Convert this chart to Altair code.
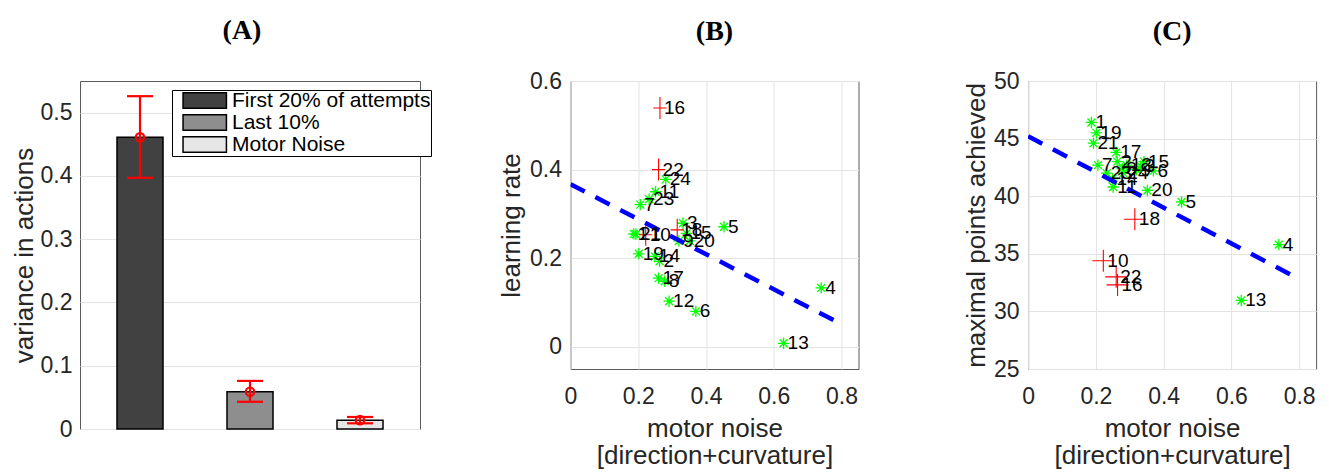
import altair as alt
import pandas as pd

# ---------------- data ----------------
bar_labels = ["First 20% of attempts", "Last 10%", "Motor Noise"]
bar_pos = [1, 2, 3]
bar_values = [0.461, 0.059, 0.014]
err_low = [0.397, 0.043, 0.009]
err_high = [0.526, 0.076, 0.019]
bar_colors = ["#414141", "#8e8e8e", "#e6e6e6"]

subjects = list(range(1, 25))
motor_noise = [0.187, 0.263, 0.332, 0.740, 0.453, 0.370, 0.206, 0.278,
               0.320, 0.222, 0.251, 0.291, 0.629, 0.249, 0.342, 0.264,
               0.260, 0.315, 0.2015, 0.352, 0.193, 0.260, 0.232, 0.281]
learning_rate = [0.255, 0.193, 0.279, 0.133, 0.271, 0.080, 0.321, 0.148,
                 0.239, 0.253, 0.350, 0.103, 0.008, 0.204, 0.256, 0.539,
                 0.155, 0.264, 0.210, 0.239, 0.254, 0.400, 0.333, 0.378]
max_points = [46.4, 43.0, 42.6, 35.8, 39.5, 42.2, 42.7, 42.4,
              42.3, 34.4, 40.8, 42.7, 30.95, 41.5, 43.0, 32.3,
              43.8, 38.0, 45.5, 40.5, 44.6, 33.0, 42.0, 42.0]
red_subjects = [10, 16, 18, 22]

fit_x = [0.0, 0.8]
fit_lr = [0.367, 0.051]
fit_pts = [45.2, 32.8]

# ---------------- styles ----------------
SANS = "Liberation Sans"
SERIF = "Liberation Serif"
AX = "#262626"
GRID = "#e3e3e3"
STAR = "M-1,0L1,0M0,-1L0,1M-0.7,-0.7L0.7,0.7M-0.7,0.7L0.7,-0.7"

dfA = pd.DataFrame({"pos": bar_pos, "val": bar_values, "lo": err_low,
                    "hi": err_high, "label": bar_labels})
dfS = pd.DataFrame({"subject": subjects, "noise": motor_noise,
                    "lr": learning_rate, "pts": max_points})
dfS["red"] = dfS["subject"].isin(red_subjects)
dfS["txt"] = dfS["subject"].astype(str)
dfFit = pd.DataFrame({"noise": fit_x, "lr": fit_lr, "pts": fit_pts})

# ---------------- panel A ----------------
xA = alt.X("pos:Q", scale=alt.Scale(domain=[0.5, 3.5], nice=False, zero=False), axis=None)
yA = alt.Y("val:Q", scale=alt.Scale(domain=[0, 0.55], nice=False, zero=False),
           axis=alt.Axis(values=[0, 0.1, 0.2, 0.3, 0.4, 0.5], format="~g",
                         labelFont=SANS, labelFontSize=23, labelColor=AX,
                         labelPadding=8, ticks=False, tickSize=0, domain=False,
                         grid=True, gridColor=GRID,
                         title="variance in actions", titleFont=SANS,
                         titleFontSize=26, titleFontWeight="normal",
                         titleColor=AX, titleX=-48, titleBaseline="alphabetic"))

bars = alt.Chart(dfA).mark_bar(size=46, stroke="black", strokeWidth=1.5).encode(
    x=xA, y=yA,
    color=alt.Color("label:N", scale=alt.Scale(domain=bar_labels, range=bar_colors),
                    legend=alt.Legend(orient="none", legendX=92, legendY=9, title=None,
                                      symbolType="M0.07,-1L5.67,-1L5.67,1L0.07,1Z",
                                      symbolSize=240, symbolStrokeColor="black",
                                      symbolStrokeWidth=1.5, symbolOpacity=1,
                                      labelFont=SANS, labelFontSize=21,
                                      labelColor="black", labelLimit=400,
                                      labelOffset=39, rowPadding=-4.5, padding=0,
                                      strokeColor="black", fillColor="white")))
err_rule = alt.Chart(dfA).mark_rule(color="red", strokeWidth=2.2).encode(
    x="pos:Q", y="lo:Q", y2="hi:Q")
cap_hi = alt.Chart(dfA).mark_point(shape="M-1,0L1,0", size=676, color="red",
                                   strokeWidth=2.2, filled=False, opacity=1).encode(
    x="pos:Q", y="hi:Q")
cap_lo = alt.Chart(dfA).mark_point(shape="M-1,0L1,0", size=676, color="red",
                                   strokeWidth=2.2, filled=False, opacity=1).encode(
    x="pos:Q", y="lo:Q")
mean_pt = alt.Chart(dfA).mark_point(shape="circle", size=70, color="red",
                                    strokeWidth=2.2, filled=False, opacity=1).encode(
    x="pos:Q", y="val:Q")

panelA = alt.layer(bars, err_rule, cap_hi, cap_lo, mean_pt).properties(
    width=340, height=348,
    title=alt.TitleParams("(A)", font=SERIF, fontSize=28, fontWeight="bold",
                          color="black", anchor="middle", baseline="alphabetic",
                          offset=14, dx=-8))


# ---------------- panels B, C ----------------
def scatter_panel(ycol, ydom, yvals, yfmt, ytitle, title_x, title, cross, title_offset):
    xenc = alt.X("noise:Q", scale=alt.Scale(domain=[0, 0.85], nice=False, zero=False),
                 axis=alt.Axis(values=[0, 0.2, 0.4, 0.6, 0.8], format="~g",
                               labelFont=SANS, labelFontSize=23, labelColor=AX,
                               labelPadding=16, labelFlush=False, ticks=False,
                               tickSize=0, domain=False, grid=True, gridColor=GRID,
                               title=["motor noise", "[direction+curvature]"],
                               titleFont=SANS, titleFontSize=26,
                               titleFontWeight="normal", titleColor=AX,
                               titleY=67, titleBaseline="alphabetic",
                               titleLineHeight=27))
    yenc = alt.Y(ycol + ":Q", scale=alt.Scale(domain=ydom, nice=False, zero=False),
                 axis=alt.Axis(values=yvals, format=yfmt, labelFont=SANS,
                               labelFontSize=23, labelColor=AX, labelPadding=9,
                               labelFlush=False, ticks=False, tickSize=0,
                               domain=False, grid=True, gridColor=GRID,
                               title=ytitle, titleFont=SANS, titleFontSize=26,
                               titleFontWeight="normal", titleColor=AX,
                               titleX=title_x, titleBaseline="alphabetic"))
    base = alt.Chart(dfS).encode(x=xenc, y=yenc)
    stars = base.transform_filter("!datum.red").mark_point(
        shape=STAR, size=130, color="#00ff00", strokeWidth=1.3, filled=False, opacity=1)
    crosses = base.transform_filter("datum.red").mark_point(
        shape=cross, size=484, color="#ff0000", strokeWidth=1.1, filled=False, opacity=1)
    line = alt.Chart(dfFit).mark_line(color="#0000ff", strokeWidth=4.5,
                                      strokeDash=[16, 12], clip=True).encode(
        x="noise:Q", y=ycol + ":Q")
    labels = base.mark_text(align="left", baseline="middle", dx=4, font=SANS,
                            fontSize=19, color="black").encode(text="txt:N")
    return alt.layer(stars, crosses, line, labels).properties(
        width=288, height=288,
        title=alt.TitleParams(title, font=SERIF, fontSize=28, fontWeight="bold",
                              color="black", anchor="middle", baseline="alphabetic",
                              offset=title_offset))


panelB = scatter_panel("lr", [-0.05, 0.6], [0, 0.2, 0.4, 0.6], "~g", "learning rate",
                       -51, "(B)", "M-0.6,0L0.6,0M0,-1L0,1", 2.5)
panelC = scatter_panel("pts", [25, 50], [25, 30, 35, 40, 45, 50], "d",
                       "maximal points achieved", -44, "(C)",
                       "M-1,0L1,0M0,-1L0,1", 2.5)

inner = alt.hconcat(panelB, panelC, spacing=102.6)
chart = alt.hconcat(panelA, inner, spacing=76.5).properties(
    padding={"left": 10, "top": 16, "right": 5, "bottom": 0},
    background="white",
).configure_view(stroke="#5a5a5a", strokeWidth=1)

chart.save("out.html", embed_options={"renderer": "svg", "actions": False})
